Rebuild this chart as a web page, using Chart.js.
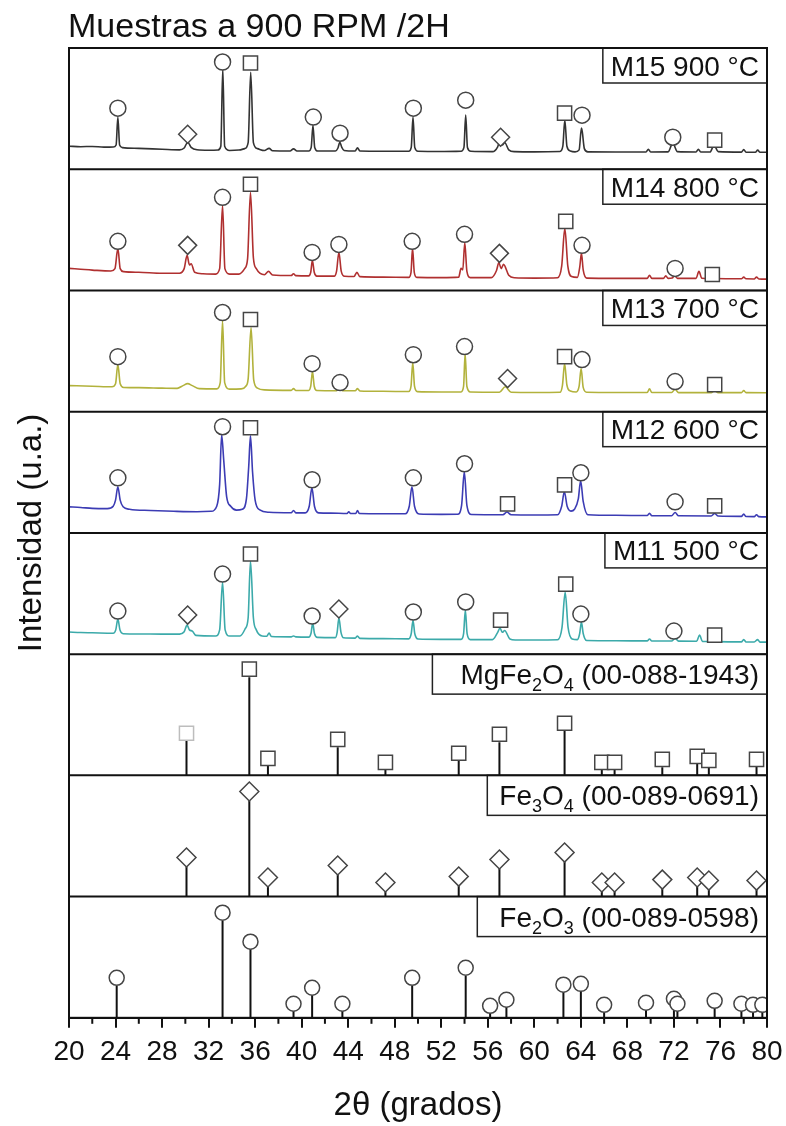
<!DOCTYPE html>
<html lang="es">
<head>
<meta charset="UTF-8">
<title>Muestras a 900 RPM /2H</title>
<style>
  html, body { margin: 0; padding: 0; background: #fff; }
  #wrap { position: relative; width: 786px; height: 1126px; }
</style>
</head>
<body>
<div id="wrap"><canvas id="chart"></canvas></div>
<script src="https://cdn.jsdelivr.net/npm/chart.js"></script>
<script>
// 2θ range and tick labels
const xMin = 20, xMax = 80, xStep = 4;

// measured patterns: [2θ, intensity (% of panel)]
const m15 = [[20,19.0],[21,18.6],[22,18.8],[23,18.2],[23.8,18.3],[24.05,20],[24.2,43],[24.35,20],[24.6,17.8],[26,17.2],[28,16.5],[29.5,16],[29.9,17.5],[30.2,22.3],[30.5,18],[31,16],[32,15.6],[32.8,15.8],[33.05,19],[33.22,83.4],[33.38,19],[33.8,15.5],[34.6,15.8],[35.1,17],[35.4,22],[35.62,80],[35.85,22],[36.2,17],[36.8,15.4],[37.2,17.2],[37.5,15.2],[39.0,15],[39.3,16.8],[39.6,15],[40.6,15],[40.82,18],[40.97,36.3],[41.12,18],[41.4,15],[42.9,15],[43.12,17.5],[43.28,22.3],[43.45,18],[43.65,15.5],[44.6,15],[44.8,17.6],[45.0,15],[47,14.8],[49.2,14.8],[49.42,18],[49.57,43],[49.72,18],[50,14.8],[52,14.6],[53.7,14.8],[53.95,18],[54.1,44.6],[54.25,18],[54.55,14.8],[56.4,14.5],[56.85,18.5],[57.05,24],[57.25,20],[57.45,22],[57.8,16],[58.3,14.5],[60,14.3],[62.2,14.6],[62.45,19],[62.62,40.5],[62.8,19],[63.1,15],[63.5,14.3],[63.85,16],[64.05,33.9],[64.12,31],[64.3,17],[64.6,14.3],[67,14.2],[69.6,14.2],[69.8,16.5],[70.0,14.2],[71.5,14.3],[71.9,21.5],[72.3,14.5],[73.9,14.2],[74.1,16.5],[74.3,14.2],[75.1,14.2],[75.45,19.8],[75.8,14.5],[77.8,14.1],[78.0,16.2],[78.2,14],[79.0,14],[79.2,15.8],[79.4,14],[80,14]];
const m14 = [[20,18.2],[21,17.5],[22,16.8],[23.6,16],[23.95,18],[24.2,34.7],[24.4,18],[24.7,15.5],[26,15],[28,14.2],[29.5,14.2],[29.9,18],[30.15,28.9],[30.35,21],[30.5,22],[30.8,15],[31.5,13.8],[32.6,13.5],[32.95,18],[33.2,70.2],[33.4,18],[33.8,13.5],[34.6,13.5],[35.1,18],[35.35,26],[35.6,81],[35.85,27],[36.1,18],[36.8,13],[37.15,15.7],[37.5,12.8],[39.1,12.3],[39.3,13.8],[39.5,12.2],[40.6,12],[40.78,15],[40.92,24.8],[41.08,15],[41.3,11.8],[42.8,11.8],[43.0,16],[43.2,31.4],[43.4,16],[43.7,11.7],[44.5,11.5],[44.75,14.9],[45.0,11.4],[47,11],[49.2,10.8],[49.4,15],[49.53,34.7],[49.68,15],[49.9,10.8],[52,10.6],[53.5,11],[53.7,18.2],[53.85,17],[54.02,39.6],[54.2,16],[54.5,10.6],[56.3,10.6],[56.75,16.5],[56.95,23],[57.15,18],[57.35,21.5],[57.8,12.5],[58.3,10.5],[60,10.2],[62.0,10.5],[62.35,20],[62.62,51.2],[62.88,20],[63.2,11.5],[63.7,10.8],[63.9,19],[64.05,30.6],[64.2,17],[64.5,10.2],[67,10],[69.7,10],[69.9,12.4],[70.1,10],[71.1,10],[71.3,12],[71.5,10],[71.85,10.2],[72.05,12.4],[72.3,10],[73.9,10],[74.15,15.7],[74.4,10],[75.1,9.8],[75.3,11.5],[75.5,9.8],[77.8,9.6],[78.0,11],[78.2,9.6],[78.9,9.5],[79.1,11],[79.3,9.5],[80,9.3]];
const m13 = [[20,21.5],[22,21],[23.7,20.5],[24.0,23],[24.2,38.8],[24.4,23],[24.7,20],[26,19.8],[28,19.4],[29.3,19.2],[29.8,21.5],[30.2,23.1],[30.6,21.5],[31.2,19],[32.7,18.8],[33.0,24],[33.2,75.2],[33.38,24],[33.8,18.6],[34.8,18.8],[35.2,21],[35.4,27],[35.65,69.4],[35.88,26],[36.2,19.5],[36.8,18],[39.1,17.6],[39.3,19],[39.5,17.5],[40.6,17.5],[40.78,21],[40.93,33],[41.08,21],[41.3,17.5],[43.0,17.3],[43.25,19.5],[43.5,17.3],[44.6,17.2],[44.8,19],[45.0,17.1],[47,16.8],[49.2,16.6],[49.4,21],[49.55,40.5],[49.7,21],[49.95,16.5],[52,16.2],[53.7,16.2],[53.92,21],[54.05,47.9],[54.2,21],[54.5,16.2],[57.0,16],[57.5,20.5],[58.0,16],[60,15.8],[62.2,16],[62.42,22],[62.6,39.6],[62.8,22],[63.1,17],[63.6,16.2],[63.85,21],[64.02,35.5],[64.2,20],[64.5,16],[67,15.8],[69.7,15.8],[69.9,18.8],[70.1,15.8],[71.8,15.8],[72.1,18.5],[72.4,15.7],[75.2,15.7],[75.5,17.5],[75.8,15.7],[77.8,15.7],[78.0,17.4],[78.2,15.7],[80,15.6]];
const m12 = [[20,21.5],[21,21],[22,20.2],[23.3,20],[23.8,22],[24.0,27],[24.2,38],[24.4,27],[24.65,21.5],[25.2,19.5],[27,18.5],[29,17.8],[31,17.4],[32.2,17.8],[32.7,22],[32.95,40],[33.12,81],[33.3,60],[33.55,30],[33.9,22],[34.4,18.8],[34.9,19.5],[35.25,28],[35.45,55],[35.6,80],[35.78,50],[36.0,27],[36.4,19],[37.2,17],[39.1,16.6],[39.3,18.5],[39.5,16.5],[40.3,16.5],[40.65,22],[40.88,37.2],[41.1,22],[41.45,16.5],[42.5,16.3],[43.9,16],[44.05,17.5],[44.2,16],[44.65,16],[44.8,18.5],[44.95,16],[47,15.8],[48.9,15.8],[49.25,22],[49.48,38],[49.7,22],[50.1,15.6],[52,15.3],[53.4,15.4],[53.75,23],[53.98,50.4],[54.2,23],[54.6,15.2],[57.3,15],[57.65,17.3],[58.0,15],[60,14.8],[62.0,15],[62.35,22],[62.58,33.9],[62.82,22],[63.15,18],[63.45,19.5],[63.78,28],[63.98,43],[64.2,26],[64.6,15],[67,14.5],[69.7,14.3],[69.9,16.2],[70.1,14.2],[71.8,14.2],[72.1,16.8],[72.4,14.1],[75.2,14],[75.5,16],[75.8,13.9],[77.8,13.6],[78.0,15.5],[78.2,13.5],[78.9,13.4],[79.1,15],[79.3,13.4],[80,13.2]];
const m11 = [[20,18.2],[21,17.8],[22,17.6],[23.8,17.2],[24.02,20],[24.2,28.9],[24.38,20],[24.65,16.8],[26,16.6],[28,16.5],[29.5,16.5],[29.9,18.5],[30.15,24],[30.35,20],[30.6,19],[30.9,15.5],[32.6,15],[32.95,20],[33.2,59.5],[33.42,20],[33.8,15],[34.7,15],[35.15,21],[35.4,30],[35.6,76.8],[35.85,30],[36.1,20],[36.6,15],[37.0,14.8],[37.2,17.3],[37.4,14.5],[39.1,14.2],[39.3,15],[39.5,14.2],[40.6,14],[40.8,17],[40.95,25.6],[41.1,17],[41.35,13.8],[42.9,13.6],[43.05,18],[43.2,29.7],[43.38,18],[43.6,13.5],[44.6,13.2],[44.8,14.9],[45.0,13],[47,12.8],[49.2,12.6],[49.42,17],[49.57,28],[49.72,17],[50,12.5],[52,12.2],[53.7,12.2],[53.92,17],[54.07,36.3],[54.22,17],[54.5,12],[56.4,12],[56.85,18],[57.05,21.5],[57.25,18],[57.45,19.5],[57.9,12.5],[58.4,11.7],[60,11.6],[62.0,11.8],[62.38,22],[62.65,51.2],[62.9,22],[63.25,12.5],[63.7,12],[63.9,17],[64.05,26.4],[64.2,17],[64.5,11.2],[67,11],[69.7,10.9],[69.9,12.5],[70.1,10.8],[71.8,10.8],[72.1,13],[72.4,10.7],[73.95,10.6],[74.2,15.7],[74.45,10.5],[75.2,10.4],[75.5,12],[75.8,10.3],[77.8,10.1],[78.0,12],[78.2,10],[78.9,10],[79.2,12],[79.4,9.9],[80,9.9]];

// phase markers above the measured peaks: [2θ, height]
const m15Circles = [[24.2,50.4],[33.2,88.4],[41.0,43],[43.3,29.7],[49.6,50.4],[54.1,57],[64.1,44.6],[71.9,26.4]];
const m15Squares = [[35.6,87.6],[62.6,46.3],[75.5,24]];
const m15Diamonds = [[30.2,28.9],[57.1,26.4]];
const m14Circles = [[24.2,40.5],[33.2,76.8],[40.9,31.4],[43.2,38],[49.5,40.5],[54.0,46.3],[64.1,37.2],[72.1,18.2]];
const m14Squares = [[35.6,87.6],[62.7,57],[75.3,13.2]];
const m14Diamonds = [[30.2,37.2],[57.0,30.6]];
const m13Circles = [[24.2,45.4],[33.2,81.8],[40.9,39.6],[43.3,24],[49.6,47],[54.0,53.7],[64.1,43],[72.1,24.8]];
const m13Squares = [[35.6,76],[62.6,45.4],[75.5,22.3]];
const m13Diamonds = [[57.7,27.3]];
const m12Circles = [[24.2,45.4],[33.2,87.6],[40.9,43.8],[49.6,45.4],[54.0,57],[64.0,49.6],[72.1,25.6]];
const m12Squares = [[35.6,86.7],[57.7,24],[62.6,39.6],[75.5,22.3]];
const m12Diamonds = [];
const m11Circles = [[24.2,35.5],[33.2,66],[40.9,31.4],[49.6,34.7],[54.1,43],[64.0,33],[72.0,19]];
const m11Squares = [[35.6,82.6],[57.1,28],[62.7,57.8],[75.5,15.7]];
const m11Diamonds = [[30.2,32.2],[43.2,37.2]];

// reference cards: peak positions, relative intensities, marker heights
const mgfePos = [30.1,35.5,37.1,43.1,47.2,53.5,57.0,62.6,65.8,66.9,71.0,74.0,75.0,79.1];
const mgfeInt = [28.9,81,8.3,23.1,5.8,12.4,27.3,37.2,5.8,5.8,6.6,9.9,6.6,7.4];
const mgfeMark = [34.7,87.6,14,29.7,10.7,18.2,33.9,43,10.7,10.7,13.2,15.7,12.4,13.2];
const fe3o4Pos = [30.1,35.5,37.1,43.1,47.2,53.5,57.0,62.6,65.8,66.9,71.0,74.0,75.0,79.1];
const fe3o4Int = [24.8,79.3,8.3,18.2,4.1,9.1,23.1,28.9,4.1,4.1,6.6,8.3,5.8,5.8];
const fe3o4Mark = [32.2,86.7,15.7,25.6,11.6,16.5,30.6,36.3,11.6,11.6,14,15.7,13.2,13.2];
const fe2o3Pos = [24.1,33.2,35.6,39.3,40.9,43.5,49.5,54.1,56.2,57.6,62.5,64.0,66.0,69.6,72.0,72.3,75.5,77.8,78.8,79.6];
const fe2o3Int = [26.4,80.1,57,5.8,19,5.8,26.4,34.7,4.1,9.1,21.5,22.3,5,6.6,9.9,5.8,8.3,5.8,5,5];
const fe2o3Mark = [33,86.7,62.8,11.6,24.8,11.6,33,41.3,9.9,14.9,27.3,28,10.7,12.4,15.7,11.6,14,11.6,10.7,10.7];

// panel captions, top to bottom ("_n" = subscript)
const panelLabels = ['M15 900 °C','M14 800 °C','M13 700 °C','M12 600 °C','M11 500 °C',
  'MgFe_2O_4 (00-088-1943)','Fe_3O_4 (00-089-0691)','Fe_2O_3 (00-089-0598)'];

const lineColors = ['#333333','#b03030','#b2b23c','#3c3cb4','#3caaaa'];
const FONT = '"Liberation Sans", Arial, sans-serif';
const MARK = '#454545';

const samples = [
  [m15, m15Circles, m15Squares, m15Diamonds],
  [m14, m14Circles, m14Squares, m14Diamonds],
  [m13, m13Circles, m13Squares, m13Diamonds],
  [m12, m12Circles, m12Squares, m12Diamonds],
  [m11, m11Circles, m11Squares, m11Diamonds]
];

function markerSet(points, axis, style, radius, color) {
  return {
    type: 'line', data: points, yAxisID: axis, showLine: false, order: 0,
    pointStyle: style, pointRadius: radius, pointHoverRadius: radius,
    pointBackgroundColor: '#fff', pointBorderColor: color || MARK, pointBorderWidth: 1.5
  };
}

function stems(pos, inten, axis) {
  const data = [];
  pos.forEach((p, i) => { data.push({x: p, y: 0}, {x: p, y: inten[i]}, {x: p, y: null}); });
  return { type: 'line', data, yAxisID: axis, borderColor: '#111', borderWidth: 2,
           pointRadius: 0, spanGaps: false, order: 1 };
}

const datasets = [];
samples.forEach(([curve, circ, sq, dia], i) => {
  const axis = 'y' + i;
  datasets.push({ type: 'line', data: curve, yAxisID: axis, borderColor: lineColors[i],
                  borderWidth: 1.6, pointRadius: 0, cubicInterpolationMode: 'monotone', order: 1 });
  datasets.push(markerSet(circ, axis, 'circle', 8));
  datasets.push(markerSet(sq, axis, 'rect', 10));
  datasets.push(markerSet(dia, axis, 'rectRot', 9));
});
datasets.push(stems(mgfePos, mgfeInt, 'y5'));
datasets.push(markerSet(mgfePos.map((p, i) => ({x: p, y: mgfeMark[i]})), 'y5', 'rect', 10,
  c => c.dataIndex === 0 ? '#bdbdbd' : MARK));
datasets.push(stems(fe3o4Pos, fe3o4Int, 'y6'));
datasets.push(markerSet(fe3o4Pos.map((p, i) => ({x: p, y: fe3o4Mark[i]})), 'y6', 'rectRot', 9.5));
datasets.push(stems(fe2o3Pos, fe2o3Int, 'y7'));
datasets.push(markerSet(fe2o3Pos.map((p, i) => ({x: p, y: fe2o3Mark[i]})), 'y7', 'circle', 7.5));

// stacked panels; the axis added last sits on top
const scales = {
  x: {
    type: 'linear', position: 'bottom', min: xMin, max: xMax,
    // end labels may hang over the page margin, so don't let them shrink the plot
    afterFit(scale) { scale.paddingLeft = 0; scale.paddingRight = 0; },
    ticks: { stepSize: xStep, autoSkip: false, maxRotation: 0, padding: 8, color: '#111',
             font: { family: FONT, size: 28 } },
    grid: { drawOnChartArea: false, tickLength: 10, color: '#111', lineWidth: 2 },
    border: { display: true, color: '#111', width: 2 },
    title: { display: true, text: '2θ (grados)', color: '#111', padding: { top: 9, bottom: 0 },
             font: { family: FONT, size: 33 } }
  }
};
for (let i = 7; i >= 0; i--) {
  scales['y' + i] = { type: 'linear', position: 'left', stack: 'xrd', stackWeight: 1,
                      min: 0, max: 100, display: false };
}

function drawCaption(ctx, text, right, top, h, padL, padR) {
  const parts = text.split(/(_\d)/).filter(s => s.length);
  const big = 'normal 28px ' + FONT, small = 'normal 18px ' + FONT;
  let w = 0;
  parts.forEach(s => { ctx.font = s[0] === '_' ? small : big; w += ctx.measureText(s[0] === '_' ? s.slice(1) : s).width; });
  const left = right - w - padL - padR;
  ctx.fillStyle = '#fff';
  ctx.fillRect(left, top, right - left, h);
  ctx.strokeStyle = '#222';
  ctx.lineWidth = 1.5;
  ctx.strokeRect(left, top, right - left, h);
  ctx.fillStyle = '#111';
  ctx.textBaseline = 'alphabetic';
  ctx.textAlign = 'left';
  let x = left + padL;
  const base = top + h / 2 + 10;
  parts.forEach(s => {
    const sub = s[0] === '_';
    const t = sub ? s.slice(1) : s;
    ctx.font = sub ? small : big;
    ctx.fillText(t, x, sub ? base + 7 : base);
    x += ctx.measureText(t).width;
  });
}

const framePlugin = {
  id: 'frame',
  beforeDraw(chart) {
    const ctx = chart.ctx;
    ctx.save();
    ctx.fillStyle = '#fff';
    ctx.fillRect(0, 0, chart.width, chart.height);
    ctx.restore();
  },
  afterDraw(chart) {
    const ctx = chart.ctx;
    const a = chart.chartArea;
    const xs = chart.scales.x;
    ctx.save();
    // captions
    const padsL = [8, 8, 8, 8, 8, 28, 12, 22];
    for (let i = 0; i < 8; i++) {
      const s = chart.scales['y' + i];
      drawCaption(ctx, panelLabels[i], a.right, s.top, i < 5 ? 35 : 40, padsL[i], 8);
    }
    // panel frames
    ctx.strokeStyle = '#111';
    ctx.lineWidth = 2;
    ctx.strokeRect(a.left, a.top, a.right - a.left, a.bottom - a.top);
    for (let i = 0; i < 7; i++) {
      const y = chart.scales['y' + i].bottom;
      ctx.beginPath(); ctx.moveTo(a.left, y); ctx.lineTo(a.right, y); ctx.stroke();
    }
    // minor ticks
    for (let v = xMin + xStep / 2; v < xMax; v += xStep) {
      const x = xs.getPixelForValue(v);
      ctx.beginPath(); ctx.moveTo(x, a.bottom); ctx.lineTo(x, a.bottom + 6); ctx.stroke();
    }
    // titles
    ctx.fillStyle = '#111';
    ctx.font = 'normal 34px ' + FONT;
    ctx.textAlign = 'left';
    ctx.textBaseline = 'alphabetic';
    ctx.fillText('Muestras a 900 RPM /2H', 68, 37);
    ctx.translate(32, (a.top + a.bottom) / 2);
    ctx.rotate(-Math.PI / 2);
    ctx.textAlign = 'center';
    ctx.textBaseline = 'middle';
    ctx.font = 'normal 33px ' + FONT;
    ctx.fillText('Intensidad (u.a.)', 0, 0);
    ctx.restore();
  }
};

new Chart(document.getElementById('chart'), {
  type: 'line',
  data: { datasets },
  options: {
    responsive: true,
    maintainAspectRatio: false,
    animation: false,
    parsing: true,
    layout: { padding: { left: 69, right: 19, top: 48, bottom: 0 } },
    plugins: { legend: { display: false }, tooltip: { enabled: false }, title: { display: false } },
    scales
  },
  plugins: [framePlugin]
});
</script>
</body>
</html>
